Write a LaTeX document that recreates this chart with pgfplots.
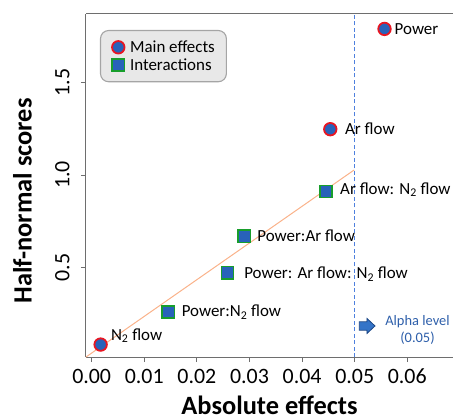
\documentclass[border=0pt]{standalone}
\usepackage{fontspec}
\setmainfont{Carlito}
\usepackage{pgfplots}
\pgfplotsset{compat=1.18}
\usepackage{pgfplotstable}
\usetikzlibrary{calc}

\definecolor{markblue}{RGB}{40,98,186}
\definecolor{mainred}{RGB}{232,22,34}
\definecolor{intgreen}{RGB}{24,158,44}
\definecolor{fitorange}{RGB}{250,178,138}
\definecolor{alphablue}{RGB}{78,128,222}
\definecolor{alphatext}{RGB}{46,95,170}
\definecolor{arrowfill}{RGB}{52,116,200}
\definecolor{arrowedge}{RGB}{28,70,132}
\definecolor{axisgray}{RGB}{110,110,110}
\definecolor{legendfill}{RGB}{232,232,232}
\definecolor{legendedge}{RGB}{165,165,165}

% main effects: absolute effect, half-normal score, label and label offsets (bp)
\pgfplotstableread[col sep=comma]{
x,y,label,dx,dy
0.0017,0.085,N\textsubscript{2} flow,9.5,4.5
0.04536,1.247,Ar flow,14,-5
0.05567,1.788,Power,9.3,-5.4
}\maineffects

% interactions
\pgfplotstableread[col sep=comma]{
x,y,label,dx,dy
0.01456,0.261,Power:N\textsubscript{2} flow,12.7,-5
0.02582,0.473,Power: Ar flow: N\textsubscript{2} flow,16,-6
0.02901,0.669,Power:Ar flow,12.3,-5.4
0.04451,0.911,Ar flow: N\textsubscript{2} flow,13.6,-2.8
}\interactions

\begin{document}
\begin{tikzpicture}
\begin{axis}[
  name=ax,
  scale only axis, width=367bp, height=343bp,
  xmin=-0.00108, xmax=0.06869, ymin=0.018, ymax=1.8685,
  axis x line*=box, axis y line*=left,
  xtick pos=left, ytick pos=left,
  tick align=outside, major tick length=5bp,
  axis line style={axisgray, line width=1bp},
  tick style={axisgray, line width=0.9bp},
  xtick={0,0.01,0.02,0.03,0.04,0.05,0.06},
  ytick={0.5,1.0,1.5},
  scaled x ticks=false, scaled y ticks=false,
  /pgf/number format/assume math mode=true,
  xticklabel style={/pgf/number format/fixed, /pgf/number format/fixed zerofill,
    /pgf/number format/precision=2},
  yticklabel style={/pgf/number format/fixed, /pgf/number format/fixed zerofill,
    /pgf/number format/precision=1},
  tick label style={font=\fontsize{22}{26}\selectfont},
  xticklabel style={anchor=base, yshift=-21bp},
  yticklabel style={xshift=-11.5bp, rotate=90, anchor=base},
  xlabel={Absolute effects},
  ylabel={Half-normal scores},
  label style={font=\bfseries\fontsize{26.5}{31}\selectfont},
  xlabel style={at={(axis description cs:0.5,-0.1662)}, anchor=base},
  ylabel style={at={(axis description cs:-0.148,0.455)}, anchor=base},
  legend cell align=left,
  legend image code/.code={\draw[sharp corners,#1] plot coordinates {(0bp,0bp)};},
  legend style={at={(axis description cs:0.0381,0.9534)}, anchor=north west,
    fill=legendfill, draw=legendedge, line width=1.1bp, rounded corners=8bp,
    font=\fontsize{17}{20}\selectfont, inner xsep=11.5bp, inner ysep=10.5bp,
    row sep=5.6bp, column sep=5.5bp,
    nodes={inner sep=0pt, anchor=west, text height=11bp, text depth=0bp}},
]
% reference line through the small effects
\addplot[fitorange, line width=1bp, forget plot] coordinates {(-0.00108,0.018) (0.0499,1.027)};
% significance threshold
\addplot[alphablue, line width=1bp, dash pattern=on 4bp off 2.5bp, forget plot]
  coordinates {(0.05,0.018) (0.05,1.8685)};

\addplot[only marks, mark=*, mark size=6.25bp,
  mark options={draw=mainred, fill=markblue, line width=1.8bp},
  point meta=explicit symbolic,
  visualization depends on={\thisrow{dx}\as\dx},
  visualization depends on={\thisrow{dy}\as\dy},
  nodes near coords,
  nodes near coords style={anchor=base west, xshift=\dx bp, yshift=\dy bp,
    font=\fontsize{17}{20}\selectfont, inner sep=0pt, text=black}]
  table[x=x, y=y, meta=label]{\maineffects};
\addlegendentry{Main effects}

\addplot[only marks, mark=square*, mark size=6.05bp,
  mark options={draw=intgreen, fill=markblue, line width=1.6bp},
  point meta=explicit symbolic,
  visualization depends on={\thisrow{dx}\as\dx},
  visualization depends on={\thisrow{dy}\as\dy},
  nodes near coords,
  nodes near coords style={anchor=base west, xshift=\dx bp, yshift=\dy bp,
    font=\fontsize{17}{20}\selectfont, inner sep=0pt, text=black}]
  table[x=x, y=y, meta=label]{\interactions};
\addlegendentry{Interactions}

% alpha level annotation
\filldraw[fill=arrowfill, draw=arrowedge, line width=0.8bp]
  ($(axis cs:0.05234,0.1855)+(-7.7bp,-4.2bp)$) --
  ($(axis cs:0.05234,0.1855)+(0bp,-4.2bp)$) --
  ($(axis cs:0.05234,0.1855)+(0bp,-7.5bp)$) --
  ($(axis cs:0.05234,0.1855)+(8bp,0bp)$) --
  ($(axis cs:0.05234,0.1855)+(0bp,7.5bp)$) --
  ($(axis cs:0.05234,0.1855)+(0bp,4.2bp)$) --
  ($(axis cs:0.05234,0.1855)+(-7.7bp,4.2bp)$) -- cycle;
\node[anchor=base, inner sep=0pt, text=alphatext, font=\fontsize{14.5}{17}\selectfont]
  at (axis cs:0.06194,0.1855) {Alpha level};
\node[anchor=base, inner sep=0pt, text=alphatext, font=\fontsize{14.5}{17}\selectfont]
  at (axis cs:0.06194,0.0939) {(0.05)};
\end{axis}
\pgfresetboundingbox
\path[use as bounding box] ([xshift=-86bp,yshift=-63bp]ax.south west)
  rectangle ([yshift=14bp]ax.north east);
\end{tikzpicture}
\end{document}
